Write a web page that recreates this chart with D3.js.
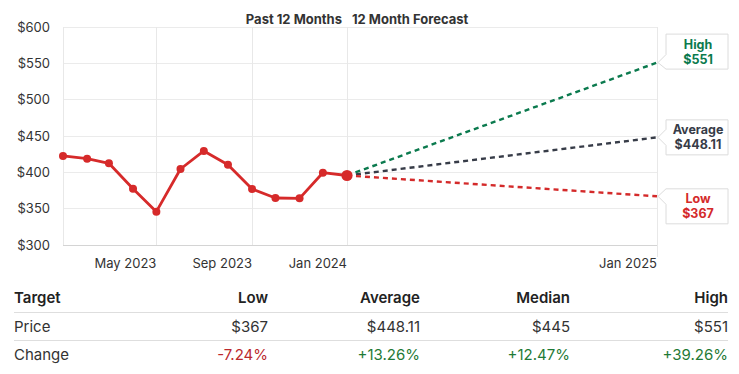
<!DOCTYPE html>
<html>
<head>
<meta charset="utf-8">
<script src="https://cdn.jsdelivr.net/npm/d3@7"></script>
<style>
  body { margin: 0; background: #fff; }
  svg { display: block; font-family: Inter, "Open Sans", sans-serif; }
</style>
</head>
<body>
<div id="chart"></div>
<script>
// past 12 months, monthly closes
const months = ["2023-01-01","2023-02-01","2023-03-01","2023-04-01","2023-05-01","2023-06-01","2023-07-01",
  "2023-08-01","2023-09-01","2023-10-01","2023-11-01","2023-12-01","2024-01-01"]
const prices = [422.5, 418.8, 412.4, 377.5, 345.9, 404.6, 429.4, 410.5, 377, 364.7, 364.2, 399.5, 395.66]

// forecast targets
const forecastDate = "2025-01-01"
const targetNames = ["High", "Average", "Low"]
const targetValues = [551, 448.11, 367]
const targetColors = ["#0b7a4e", "#373c48", "#d42a2a"]

const yTicks = [300, 350, 400, 450, 500, 550, 600]
const xTickDates = ["2023-05-01", "2023-09-01", "2024-01-01", "2025-01-01"]

// table
const tableCols = ["Target", "Low", "Average", "Median", "High"]
const priceRow = ["Price", "$367", "$448.11", "$445", "$551"]
const changeRow = ["Change", "-7.24%", "+13.26%", "+12.47%", "+39.26%"]

const W = 739, H = 374
const parse = d3.timeParse("%Y-%m-%d")
const mLeft = 63, mRight = 657, mTop = 27, mBottom = 245

const svg = d3.select('#chart').append('svg')
    .attr('width', W).attr('height', H)

// piecewise time scale: past year and forecast year get their own widths
const x = d3.scaleTime()
    .domain([parse("2023-01-01"), parse("2024-01-01"), parse(forecastDate)])
    .range([mLeft, 347, mRight])
const y = d3.scaleLinear().domain([300, 600]).range([mBottom, mTop])

// grid
svg.append('g').selectAll('line')
    .data(yTicks)
    .enter().append('line')
    .attr('x1', mLeft).attr('x2', mRight)
    .attr('y1', d => y(d)).attr('y2', d => y(d))
    .attr('stroke', d => d === 300 ? '#d4d4d4' : '#ebebeb')
    .attr('stroke-width', 1)
    .attr('shape-rendering', 'crispEdges')

svg.append('g').selectAll('line')
    .data([parse("2023-01-01")].concat(xTickDates.map(parse)))
    .enter().append('line')
    .attr('x1', d => x(d)).attr('x2', d => x(d))
    .attr('y1', mTop)
    .attr('y2', (d, i) => i === 4 ? mBottom + 12 : mBottom)
    .attr('stroke', '#e8e8e8')
    .attr('shape-rendering', 'crispEdges')

// y labels
svg.append('g').selectAll('text')
    .data(yTicks)
    .enter().append('text')
    .attr('x', 50).attr('y', d => y(d))
    .attr('dy', '0.35em')
    .attr('text-anchor', 'end')
    .attr('font-size', 13)
    .attr('fill', '#333')
    .text(d => '$' + d)

// x labels, end-anchored at their gridline
svg.append('g').selectAll('text')
    .data(xTickDates.map(parse))
    .enter().append('text')
    .attr('x', d => x(d)).attr('y', 268)
    .attr('text-anchor', 'end')
    .attr('font-size', 13)
    .attr('fill', '#333')
    .text(d3.timeFormat('%b %Y'))

// header
svg.append('text').attr('x', 342).attr('y', 24)
    .attr('text-anchor', 'end').attr('font-size', 13).attr('font-weight', 700)
    .attr('fill', '#333').text('Past 12 Months')
svg.append('text').attr('x', 352).attr('y', 24)
    .attr('font-size', 13).attr('font-weight', 700)
    .attr('fill', '#333').text('12 Month Forecast')

const past = months.map((m, i) => ({ date: parse(m), value: prices[i] }))
const last = past[past.length - 1]

// forecast lines
const line = d3.line().x(d => x(d.date)).y(d => y(d.value))
targetValues.forEach((v, i) => {
    svg.append('path')
        .datum([last, { date: parse(forecastDate), value: v }])
        .attr('d', line)
        .attr('fill', 'none')
        .attr('stroke', targetColors[i])
        .attr('stroke-width', 2.4)
        .attr('stroke-dasharray', '5,4')
})

// past line
svg.append('path')
    .datum(past)
    .attr('d', line)
    .attr('fill', 'none')
    .attr('stroke', '#d62a2a')
    .attr('stroke-width', 2.8)
    .attr('stroke-linejoin', 'round')

svg.append('g').selectAll('circle')
    .data(past)
    .enter().append('circle')
    .attr('cx', d => x(d.date)).attr('cy', d => y(d.value))
    .attr('r', (d, i) => i === past.length - 1 ? 5.6 : 4)
    .attr('fill', '#d62a2a')

// callout labels
const boxOffset = [-11, 0, 10]
targetValues.forEach((v, i) => {
    const ax = x(parse(forecastDate)), ay = y(v)
    const bx = 666, bw = 62, bh = 35
    const by = ay + boxOffset[i] - bh / 2
    const a1 = Math.max(by, ay - 8), a2 = Math.min(by + bh, ay + 8)
    const p = d3.path()
    p.moveTo(bx, by)
    p.lineTo(bx + bw, by)
    p.lineTo(bx + bw, by + bh)
    p.lineTo(bx, by + bh)
    p.lineTo(bx, a2)
    p.lineTo(ax + 1, ay)
    p.lineTo(bx, a1)
    p.closePath()
    svg.append('path').attr('d', p.toString())
        .attr('fill', '#fff')
        .attr('stroke', '#dcdcdc')
        .attr('stroke-width', 1)
    const cx = bx + bw / 2 + 1, cy = by + bh / 2
    svg.append('text')
        .attr('x', cx).attr('y', cy - 3)
        .attr('text-anchor', 'middle')
        .attr('font-size', 12.5).attr('font-weight', 700)
        .attr('fill', targetColors[i])
        .text(targetNames[i])
    svg.append('text')
        .attr('x', cx).attr('y', cy + 12)
        .attr('text-anchor', 'middle')
        .attr('font-size', 12.5).attr('font-weight', 700)
        .attr('fill', targetColors[i])
        .text('$' + (v % 1 ? v.toFixed(2) : v))
})

// table
const colX = [14, 268, 420, 570, 728]
const rowY = [303, 332, 360]
const tbl = svg.append('g').attr('font-size', 15)
;[312, 340].forEach(ly => {
    tbl.append('line').attr('x1', 14).attr('x2', 728)
        .attr('y1', ly).attr('y2', ly)
        .attr('stroke', '#dedede').attr('shape-rendering', 'crispEdges')
})
;[tableCols, priceRow, changeRow].forEach((row, r) => {
    tbl.append('g').selectAll('text')
        .data(row)
        .enter().append('text')
        .attr('x', (d, i) => colX[i])
        .attr('y', rowY[r])
        .attr('text-anchor', (d, i) => i === 0 ? 'start' : 'end')
        .attr('font-weight', r === 0 ? 600 : 400)
        .attr('fill', (d, i) => {
            if (r < 2 || i === 0) return r === 0 ? '#222' : '#333'
            return d.startsWith('-') ? '#bb2a2e' : '#1f7a36'
        })
        .text(d => d)
})
</script>
</body>
</html>
